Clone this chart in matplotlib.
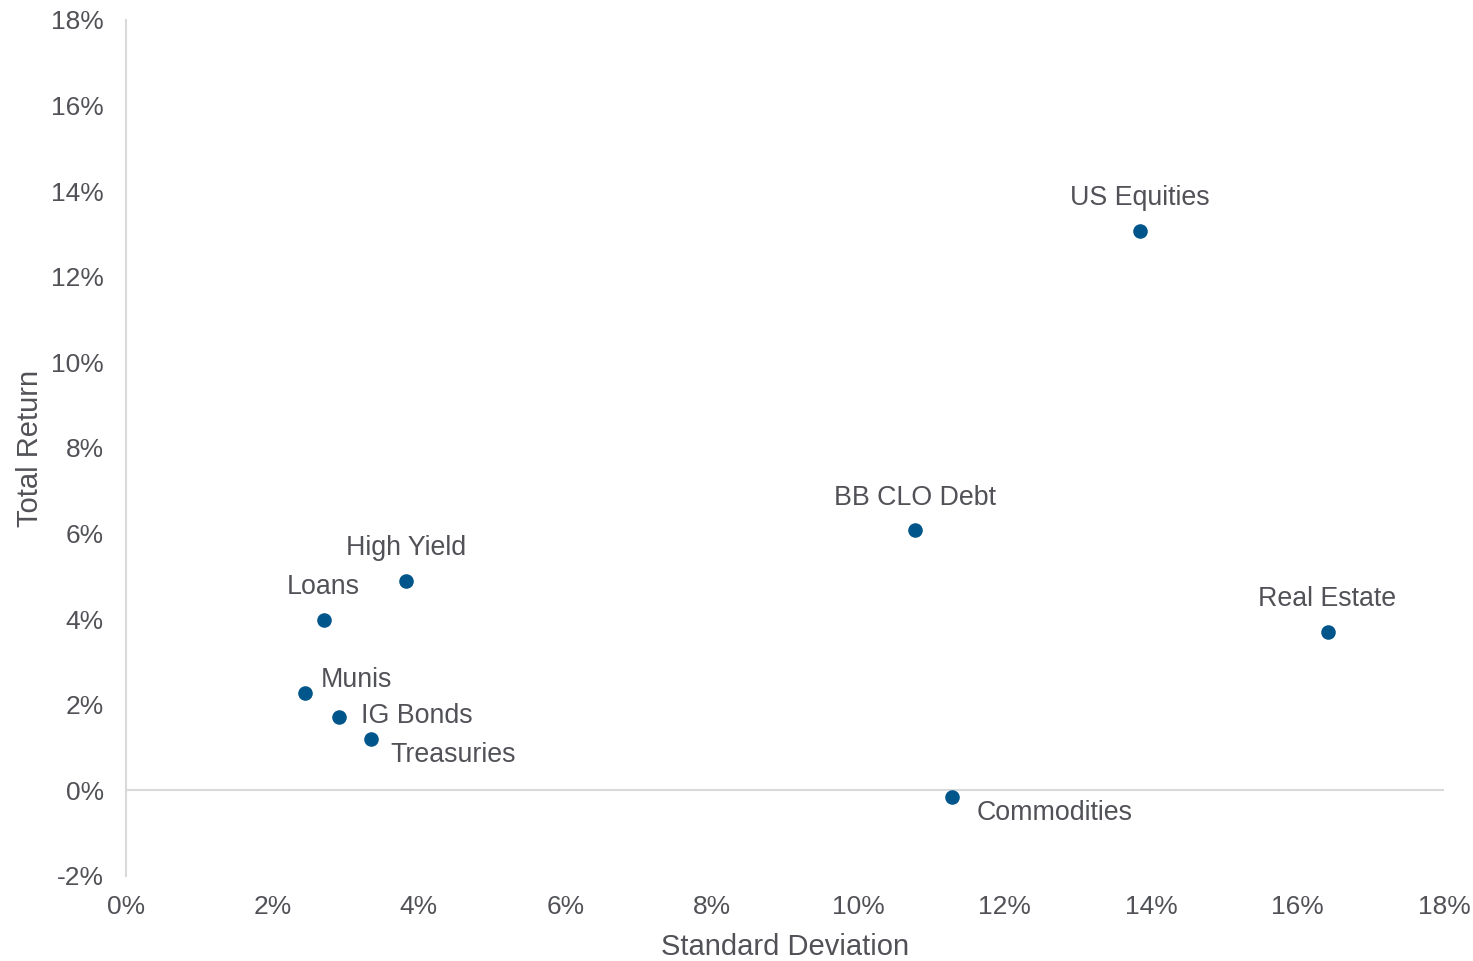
import matplotlib.pyplot as plt
from matplotlib.ticker import FuncFormatter

plt.rcParams['font.family'] = ['Liberation Sans', 'DejaVu Sans']

# asset class risk / return (%)
names = ['US Equities', 'BB CLO Debt', 'Real Estate', 'Commodities', 'High Yield',
         'Loans', 'Munis', 'IG Bonds', 'Treasuries']
std_dev = [13.85, 10.77, 16.41, 11.28, 3.83, 2.70, 2.45, 2.91, 3.35]
total_ret = [13.07, 6.08, 3.70, -0.15, 4.90, 3.98, 2.28, 1.72, 1.21]

# label placement (offset in points, horizontal alignment)
offsets = {
    'US Equities': ((0, 23.5), 'center'),
    'BB CLO Debt': ((0, 23.5), 'center'),
    'Real Estate': ((0, 23.5), 'center'),
    'High Yield': ((0, 23.5), 'center'),
    'Loans': ((0, 23.5), 'center'),
    'Munis': ((11, 9.5), 'left'),
    'IG Bonds': ((16, 0.5), 'left'),
    'Treasuries': ((14, -11.5), 'left'),
    'Commodities': ((18, -11.5), 'left'),
}

text_col = '#515257'
dot_col = '#00558A'
line_col = '#D9D9D9'

fig = plt.figure(figsize=(14.73, 9.61), dpi=100)
ax = fig.add_axes([0.0855, 0.0885, 0.8948, 0.8907])

ax.scatter(std_dev, total_ret, s=110, color=dot_col, zorder=3, linewidths=0)
for n, x, y in zip(names, std_dev, total_ret):
    (dx, dy), ha = offsets[n]
    ax.annotate(n, (x, y), xytext=(dx, dy), textcoords='offset points',
                ha=ha, va='center', fontsize=19.3, color=text_col)

ax.set_xlim(0, 18)
ax.set_ylim(-2, 18)
ax.set_xticks(range(0, 19, 2))
ax.set_yticks(range(-2, 19, 2))
pct = FuncFormatter(lambda v, p: f'{v:.0f}%')
ax.xaxis.set_major_formatter(pct)
ax.yaxis.set_major_formatter(pct)
ax.tick_params(length=0, labelsize=19, labelcolor=text_col)
ax.tick_params(axis='x', pad=14)
ax.tick_params(axis='y', pad=16)

for s in ['top', 'right', 'bottom']:
    ax.spines[s].set_visible(False)
ax.spines['left'].set_color(line_col)
ax.spines['left'].set_linewidth(1.5)
ax.axhline(0, color=line_col, linewidth=1.5, zorder=1)

ax.set_xlabel('Standard Deviation', fontsize=21, color=text_col, labelpad=10)
ax.set_ylabel('Total Return', fontsize=21, color=text_col, labelpad=5)

fig.savefig('out.png', dpi=100)
